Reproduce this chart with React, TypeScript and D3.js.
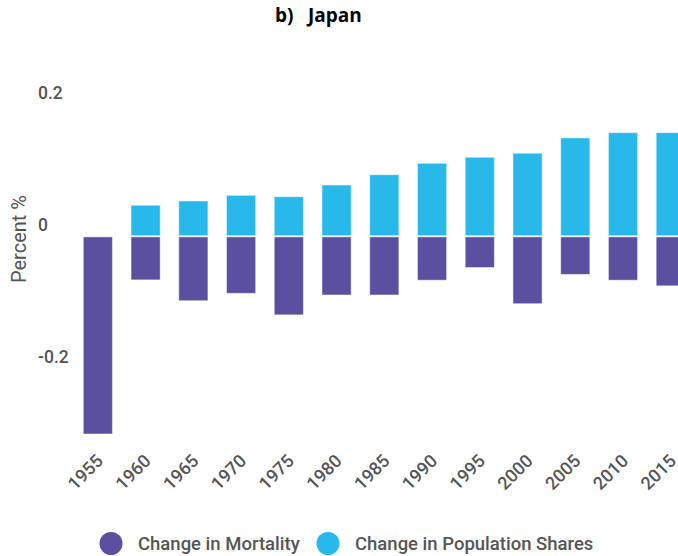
import React from "react";
import * as d3 from "d3";

const years = ["1955","1960","1965","1970","1975","1980","1985","1990","1995","2000","2005","2010","2015"];
const populationShares = [0, 0.047, 0.0535, 0.062, 0.060, 0.0777, 0.0933, 0.1106, 0.1197, 0.1258, 0.149, 0.157, 0.157];
const mortality = [-0.2995, -0.066, -0.0976, -0.0864, -0.119, -0.0889, -0.0889, -0.0665, -0.0473, -0.1021, -0.0577, -0.0665, -0.075];
const yTicks = [0.2, 0, -0.2];
const seriesNames = ["Change in Mortality", "Change in Population Shares"];

const W = 678, H = 556;
const PURPLE = "#5b50a0";
const BLUE = "#28b8ea";
const TXT = "#555555";

export default function App() {
  const x = d3.scaleBand<string>().domain(years).range([83.3, 685.3]).paddingInner(0.39).paddingOuter(0);
  const y = d3.scaleLinear().domain([-0.2, 0.2]).range([368.3, 104.3]);
  const y0 = y(0);
  const bw = x.bandwidth();
  const font = "Roboto, sans-serif";
  const fmt = (t: number) => String(t);
  return (
    <svg width={W} height={H} style={{ position: "absolute", left: 0, top: 0, display: "block" }}>
      <rect width={W} height={H} fill="#fff" />
      <text x={275} y={22} fontFamily="'Open Sans', sans-serif" fontWeight={700} fontSize={19} fill="#000">b)</text>
      <text x={308} y={22} fontFamily="'Open Sans', sans-serif" fontWeight={700} fontSize={19} fill="#000">Japan</text>
      <text transform={`translate(25.5,239) rotate(-90)`} textAnchor="middle" fontFamily={font} fontSize={20} fill={TXT}>Percent %</text>
      {yTicks.map((t) => (
        <text key={t} x={38} y={y(t) - 11} dy="0.35em" fontFamily={font} fontWeight={500} fontSize={17.5} fill={TXT}>{fmt(t)}</text>
      ))}
      {years.map((yr, i) => {
        const xp = x(yr)!;
        const pv = populationShares[i];
        const mv = mortality[i];
        return (
          <g key={yr}>
            {pv > 0 && (
              <rect x={xp} y={y(pv)} width={bw} height={y0 - 0.6 - y(pv)} fill={BLUE} stroke="rgba(255,255,255,0.45)" strokeWidth={1} />
            )}
            {mv < 0 && (
              <rect x={xp} y={y0 + 0.6} width={bw} height={y(mv) - y0 - 0.6} fill={PURPLE} stroke="rgba(255,255,255,0.45)" strokeWidth={1} />
            )}
          </g>
        );
      })}
      {years.map((yr) => {
        const cx = x(yr)! + bw / 2 + 6.4;
        return (
          <text key={"l" + yr} transform={`translate(${cx},462) rotate(-45)`} textAnchor="end" fontFamily={font} fontWeight={500} fontSize={18} fill={TXT}>{yr}</text>
        );
      })}
      <circle cx={111} cy={543.5} r={11.5} fill={PURPLE} />
      <text x={138} y={544} dy="0.35em" fontFamily={font} fontWeight={500} fontSize={18.5} fill={TXT}>{seriesNames[0]}</text>
      <circle cx={328} cy={543.5} r={11.5} fill={BLUE} />
      <text x={355} y={544} dy="0.35em" fontFamily={font} fontWeight={500} fontSize={18.5} fill={TXT}>{seriesNames[1]}</text>
    </svg>
  );
}
